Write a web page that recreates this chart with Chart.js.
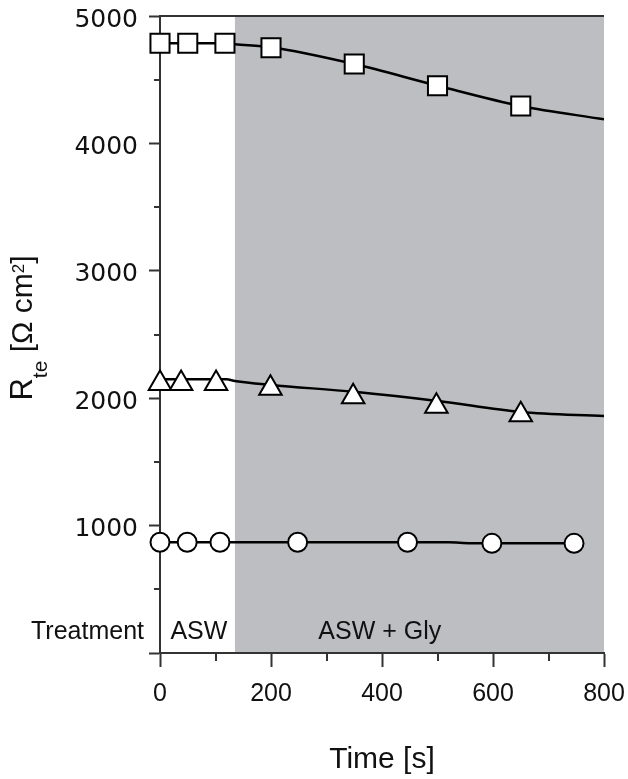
<!DOCTYPE html>
<html>
<head>
<meta charset="utf-8">
<title>Rte vs time</title>
<script src="https://cdn.jsdelivr.net/npm/chart.js@4.4.1/dist/chart.umd.min.js"></script>
<style>
  body { margin: 0; background: #fff; }
  canvas { display: block; }
</style>
</head>
<body>
<canvas id="chart" width="628" height="779"></canvas>
<script>
// values (time in s, Rte in ohm cm2)
var squareTimes = [0, 50, 117, 200, 350, 500, 650];
var squareValues = [4786, 4786, 4786, 4751, 4623, 4453, 4294];
var squareLineTimes = [0, 117, 135, 200, 350, 500, 650, 800];
var squareLineValues = [4786, 4786, 4778, 4755, 4623, 4453, 4294, 4189];

var triangleTimes = [0, 38, 101, 199, 348, 498, 650];
var triangleValues = [2115, 2115, 2115, 2078, 2011, 1937, 1870];
var triangleLineTimes = [0, 120, 135, 200, 350, 500, 650, 800];
var triangleLineValues = [2148, 2148, 2135, 2104, 2050, 1978, 1892, 1860];

var circleTimes = [0, 49, 108, 248, 446, 598, 746];
var circleValues = [869, 869, 869, 869, 869, 861, 861];
var circleLineTimes = [0, 520, 560, 750];
var circleLineValues = [869, 869, 862, 862];

var xMinorTicks = [100, 300, 500, 700];
var yMinorTicks = [500, 1500, 2500, 3500, 4500];

var glyStart = 135;
var glyEnd = 800;
var treatmentNames = ['ASW', 'ASW + Gly'];
var treatmentCenters = [70, 396];

var FONT = "'Liberation Sans', Arial, sans-serif";
var INK = '#111';
var AXIS = '#333';

function points(xs, ys) {
  var out = [];
  for (var i = 0; i < xs.length; i++) out.push({ x: xs[i], y: ys[i] });
  return out;
}

function lineSet(xs, ys) {
  return {
    data: points(xs, ys),
    showLine: true,
    borderColor: '#000',
    borderWidth: 2.5,
    pointRadius: 0,
    cubicInterpolationMode: 'monotone',
    order: 1
  };
}

function markerSet(xs, ys, style, r) {
  return {
    data: points(xs, ys),
    showLine: false,
    pointStyle: style,
    pointRadius: r,
    pointBackgroundColor: '#fff',
    pointBorderColor: '#000',
    pointBorderWidth: 2,
    clip: false,
    order: 0
  };
}

var decor = {
  id: 'decor',
  beforeDraw: function (chart) {
    var ctx = chart.ctx, a = chart.chartArea, sx = chart.scales.x;
    var x0 = sx.getPixelForValue(glyStart), x1 = sx.getPixelForValue(glyEnd);
    ctx.save();
    ctx.fillStyle = '#bdbec1';
    ctx.fillRect(x0, a.top, x1 - x0, a.bottom - a.top);
    ctx.restore();
  },
  beforeDatasetsDraw: function (chart) {
    var ctx = chart.ctx, a = chart.chartArea, sx = chart.scales.x, sy = chart.scales.y;
    ctx.save();
    ctx.strokeStyle = AXIS;
    ctx.lineWidth = 2;
    ctx.beginPath();
    // top frame line
    ctx.moveTo(a.left, a.top);
    ctx.lineTo(a.right, a.top);
    // minor ticks
    xMinorTicks.forEach(function (t) {
      var px = Math.round(sx.getPixelForValue(t));
      ctx.moveTo(px, a.bottom);
      ctx.lineTo(px, a.bottom + 8);
    });
    yMinorTicks.forEach(function (v) {
      var py = Math.round(sy.getPixelForValue(v));
      ctx.moveTo(a.left - 6, py);
      ctx.lineTo(a.left, py);
    });
    ctx.stroke();

    ctx.fillStyle = INK;
    ctx.font = '25px ' + FONT;
    ctx.textBaseline = 'alphabetic';
    ctx.textAlign = 'right';
    ctx.fillText('Treatment', a.left - 16, 639);
    ctx.textAlign = 'center';
    for (var i = 0; i < treatmentNames.length; i++) {
      ctx.fillText(treatmentNames[i], sx.getPixelForValue(treatmentCenters[i]), 639);
    }
    ctx.restore();
  },
  afterDraw: function (chart) {
    var ctx = chart.ctx;
    var parts = [
      { t: 'R', f: 31, dy: 0 },
      { t: 'te', f: 21, dy: 15 },
      { t: ' [\u03A9 cm', f: 30, dy: 0 },
      { t: '2', f: 17, dy: -8 },
      { t: ']', f: 30, dy: 0 }
    ];
    ctx.save();
    ctx.fillStyle = INK;
    ctx.textBaseline = 'alphabetic';
    ctx.textAlign = 'left';
    var total = 0;
    parts.forEach(function (p) {
      ctx.font = p.f + 'px ' + FONT;
      p.w = ctx.measureText(p.t).width;
      total += p.w;
    });
    ctx.translate(32, 328);
    ctx.rotate(-Math.PI / 2);
    var cx = -total / 2;
    parts.forEach(function (p) {
      ctx.font = p.f + 'px ' + FONT;
      ctx.fillText(p.t, cx, p.dy);
      cx += p.w;
    });
    ctx.restore();
  }
};

new Chart(document.getElementById('chart'), {
  type: 'scatter',
  data: {
    datasets: [
      markerSet(squareTimes, squareValues, 'rect', 13.5),
      markerSet(triangleTimes, triangleValues, 'triangle', 13),
      markerSet(circleTimes, circleValues, 'circle', 9.5),
      lineSet(squareLineTimes, squareLineValues),
      lineSet(triangleLineTimes, triangleLineValues),
      lineSet(circleLineTimes, circleLineValues)
    ]
  },
  options: {
    responsive: false,
    animation: false,
    events: [],
    layout: { padding: { top: 16, right: 24, left: 0, bottom: 0 } },
    plugins: { legend: { display: false }, tooltip: { enabled: false } },
    scales: {
      x: {
        type: 'linear',
        min: 0,
        max: 800,
        ticks: {
          stepSize: 200,
          color: INK,
          font: { family: FONT, size: 25 },
          padding: 12,
          maxRotation: 0,
          callback: function (v) { return String(v); }
        },
        grid: { drawOnChartArea: false, tickLength: 14, tickWidth: 2, tickColor: AXIS },
        border: { color: AXIS, width: 2 },
        title: {
          display: true,
          text: 'Time [s]',
          color: INK,
          font: { family: FONT, size: 30 },
          padding: { top: 0, bottom: 1 }
        },
        afterFit: function (s) {
          s.height = 126;
          s.paddingLeft = 0;
          s.paddingRight = 0;
        }
      },
      y: {
        min: 0,
        max: 5000,
        ticks: {
          stepSize: 1000,
          color: INK,
          font: { family: "'DejaVu Sans', sans-serif", size: 25 },
          padding: 11,
          labelOffset: 4,
          callback: function (v) { return v === 0 ? '' : String(v); }
        },
        grid: { drawOnChartArea: false, tickLength: 11, tickWidth: 2, tickColor: AXIS },
        border: { color: AXIS, width: 2 },
        afterFit: function (s) {
          s.width = 160;
          s.paddingTop = 0;
          s.paddingBottom = 0;
        }
      }
    }
  },
  plugins: [decor]
});
</script>
</body>
</html>
